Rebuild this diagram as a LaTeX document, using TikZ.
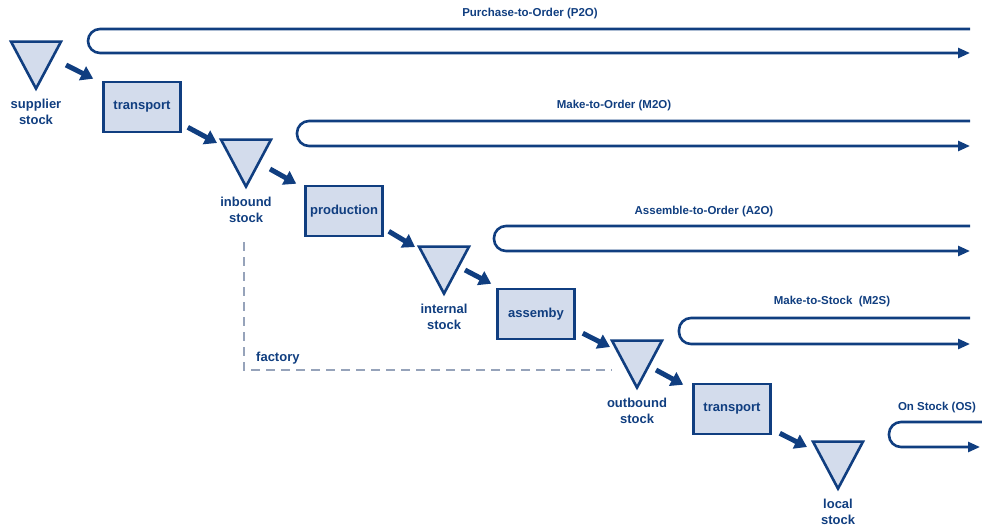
\documentclass[tikz,border=0pt]{standalone}
\usepackage{fontspec}
\setmainfont{Liberation Sans}
\usetikzlibrary{shapes.geometric, arrows.meta, positioning, calc}
\definecolor{flowblue}{RGB}{16, 62, 128}
\definecolor{boxfill}{RGB}{211, 220, 236}
\definecolor{dashgray}{RGB}{150, 163, 186}

\begin{document}
\begin{tikzpicture}[x = 1pt, y = -1pt,
  font = {\fontsize{13}{16}\selectfont\bfseries}, text = flowblue,
  stock/.style = {isosceles triangle, isosceles triangle stretches,
    shape border rotate = -90, minimum width = 50pt, minimum height = 47pt,
    draw = flowblue, fill = boxfill, line width = 2.6pt, inner sep = 0pt},
  proc/.style = {rectangle, draw = flowblue, fill = boxfill, line width = 2.6pt,
    minimum width = 77pt, minimum height = 50pt},
  lbl/.style = {align = center, inner sep = 0pt},
  loopname/.style = {lbl, font = {\fontsize{11.5}{14}\selectfont\bfseries}},
  flow/.style = {draw = flowblue, line width = 5pt,
    -{Triangle[length = 12pt, width = 15pt]}},
  route/.style = {draw = flowblue, line width = 2.6pt, rounded corners = 12pt,
    -{Triangle[length = 12pt, width = 10pt]}}]
\useasboundingbox (0, 0) rectangle (982, 528);

% factory border
\draw[dashgray, line width = 1.3pt, dash pattern = on 9pt off 6pt] (244, 242) |- (612, 370);
\node[lbl, anchor = west] (factory) at (256, 358) {factory};

% order loops
\node[loopname] (p2o) at (530, 14) {Purchase-to-Order (P2O)};
\draw[route] (970, 29) -| (88, 53) -- (970, 53);
\node[loopname] (m2o) at (614, 106) {Make-to-Order (M2O)};
\draw[route] (970, 121) -| (297, 146) -- (970, 146);
\node[loopname] (a2o) at (704, 212) {Assemble-to-Order (A2O)};
\draw[route] (970, 226) -| (494, 251) -- (970, 251);
\node[loopname] (m2s) at (832, 302) {Make-to-Stock\ \ (M2S)};
\draw[route] (970, 318) -| (679, 344) -- (970, 344);
\node[loopname] (os) at (937, 408) {On Stock (OS)};
\draw[route] (982, 422) -| (889, 447) -- (980, 447);

% stocks
\node[stock, anchor = apex] (supplier) at (36, 92) {};
\node[stock, anchor = apex] (inbound) at (246, 190) {};
\node[stock, anchor = apex] (internal) at (444, 297) {};
\node[stock, anchor = apex] (outbound) at (637, 391) {};
\node[stock, anchor = apex] (local) at (838, 492) {};
\node[lbl, below = 7pt of supplier.apex] (supplierlbl) {supplier\\stock};
\node[lbl, below = 7pt of inbound.apex] (inboundlbl) {inbound\\stock};
\node[lbl, below = 7pt of internal.apex] (internallbl) {internal\\stock};
\node[lbl, below = 7pt of outbound.apex] (outboundlbl) {outbound\\stock};
\node[lbl, below = 7pt of local.apex] (locallbl) {local\\stock};

% processes
\node[proc] (transport1) at (142, 107) {transport};
\node[proc] (production) at (344, 211) {production};
\node[proc] (assembly) at (536, 314) {assemby};
\node[proc] (transport2) at (732, 409) {transport};

% material flow
\draw[flow] ($(supplier.apex) + (30, -27)$) -- ($(transport1.north west) + (-9, -2)$);
\draw[flow] ($(transport1.south east) + (6, -6)$) -- ($(inbound.apex) + (-29, -47)$);
\draw[flow] ($(inbound.apex) + (24, -21)$) -- ($(production.north west) + (-8, -1)$);
\draw[flow] ($(production.south east) + (5, -6)$) -- ($(internal.apex) + (-29, -50)$);
\draw[flow] ($(internal.apex) + (21, -27)$) -- ($(assembly.north west) + (-5, -4)$);
\draw[flow] ($(assembly.south east) + (7, -7)$) -- ($(outbound.apex) + (-27, -44)$);
\draw[flow] ($(outbound.apex) + (19, -21)$) -- ($(transport2.north west) + (-9, 2)$);
\draw[flow] ($(transport2.south east) + (8, -2)$) -- ($(local.apex) + (-31, -45)$);
\end{tikzpicture}
\end{document}
